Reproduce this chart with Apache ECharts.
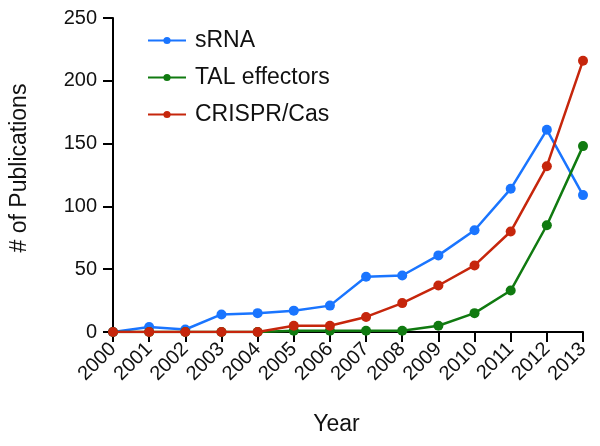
<!DOCTYPE html>
<html><head><meta charset="utf-8">
<script src="https://cdn.jsdelivr.net/npm/echarts@6/dist/echarts.min.js"></script>
<style>html,body{margin:0;padding:0;background:#fff}#c{width:600px;height:446px}</style>
</head><body><div id="c"></div>
<script>
const years = ['2000','2001','2002','2003','2004','2005','2006','2007','2008','2009','2010','2011','2012','2013'];
const sRNA = [0, 4, 2, 14, 15, 17, 21, 44, 45, 61, 81, 114, 161, 109];
const talEffectors = [0, 0, 0, 0, 0, 1, 1, 1, 1, 5, 15, 33, 85, 148];
const crisprCas = [0, 0, 0, 0, 0, 5, 5, 12, 23, 37, 53, 80, 132, 216];
const yTicks = [0, 50, 100, 150, 200, 250];

const font = 'Liberation Sans, Arial, sans-serif';
const chart = echarts.init(document.getElementById('c'));
function ser(name, data, color, z) {
  return {name, type:'line', data, z, symbol:'circle', symbolSize:10,
    lineStyle:{color, width:2.5}, itemStyle:{color}, emphasis:{disabled:true}};
}
chart.setOption({
  animation:false,
  grid:{left:109, right:17, top:18, bottom:114, containLabel:false},
  legend:{orient:'vertical', left:142, top:24, itemGap:14, itemWidth:38, itemHeight:9,
    textStyle:{fontFamily:font, fontSize:23, color:'#111', padding:[0,0,0,4]},
    data:['sRNA','TAL effectors','CRISPR/Cas']},
  xAxis:{type:'category', data:years, boundaryGap:false,
    name:'Year', nameLocation:'middle', nameGap:81,
    nameTextStyle:{fontFamily:font, fontSize:23, color:'#111', padding:[0,23,0,0]},
    axisLine:{lineStyle:{color:'#000', width:2}},
    axisTick:{alignWithLabel:true, length:10, lineStyle:{color:'#000', width:2}},
    axisLabel:{rotate:45, fontFamily:font, fontSize:20, color:'#111', margin:14, interval:0}},
  yAxis:{type:'value', min:0, max:250, interval:50,
    name:'# of Publications', nameLocation:'middle', nameGap:82, nameRotate:90,
    nameTextStyle:{fontFamily:font, fontSize:23, color:'#111', padding:[0,0,0,14]},
    axisLine:{show:true, lineStyle:{color:'#000', width:2}},
    axisTick:{show:true, length:10, lineStyle:{color:'#000', width:2}},
    splitLine:{show:false},
    axisLabel:{fontFamily:font, fontSize:20, color:'#111', margin:16,
      formatter:v => yTicks.includes(v) ? String(v) : ''}},
  series:[
    ser('sRNA', sRNA, '#1a75ff', 3),
    ser('TAL effectors', talEffectors, '#107a10', 4),
    ser('CRISPR/Cas', crisprCas, '#c6260c', 5)
  ]
});
</script></body></html>
